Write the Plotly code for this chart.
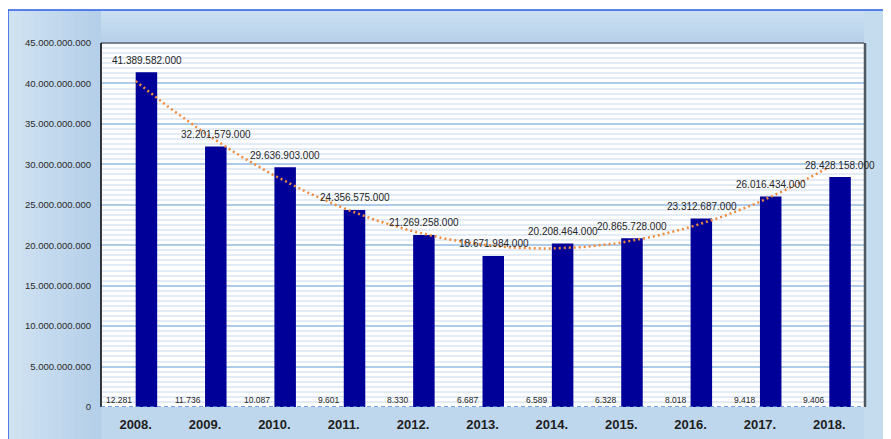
import numpy as np
import plotly.graph_objects as go

# ---- data ----
years = ["2008.", "2009.", "2010.", "2011.", "2012.", "2013.", "2014.", "2015.", "2016.", "2017.", "2018."]
small_values = [12281, 11736, 10087, 9601, 8330, 6687, 6589, 6328, 8018, 9418, 9406]
large_values = [41389582000, 32201579000, 29636903000, 24356575000, 21269258000, 18671984000,
                20208464000, 20865728000, 23312687000, 26016434000, 28428158000]
y_ticks = [0, 5e9, 10e9, 15e9, 20e9, 25e9, 30e9, 35e9, 40e9, 45e9]

def fmt(v):
    return f"{int(v):,}".replace(",", ".")

OFF = 8  # page body margin
W, H = 891 - OFF, 439 - OFF
L, R, T, B = 101 - OFF, 864 - OFF, 43 - OFF, 407 - OFF
PW, PH = R - L, B - T

def fx(p):  # p in screen pixels
    return (p - OFF - L) / PW

def fy(p):
    return (B - (p - OFF)) / PH

idx = np.arange(len(years))

fig = go.Figure()
fig.add_trace(go.Bar(x=idx, y=small_values, marker=dict(color="#000099", line=dict(width=0)),
                     showlegend=False, hoverinfo="skip"))
fig.add_trace(go.Bar(x=idx, y=large_values, marker=dict(color="#000099", line=dict(width=0)),
                     showlegend=False))

# polynomial (order 2) trendline of the large series
coef = np.polyfit(idx, np.array(large_values, dtype=float), 2)
xs = np.linspace(0, len(years) - 1, 121)
fig.add_trace(go.Scatter(x=xs, y=np.polyval(coef, xs), mode="lines",
                         line=dict(color="#f08a3c", width=2.5, dash="2px,3px"),
                         showlegend=False, hoverinfo="skip"))

annotations = []
for i, v in enumerate(large_values):
    annotations.append(dict(x=i, y=v, xref="x", yref="y", text=fmt(v), showarrow=False,
                            xshift=11, yshift=12, yanchor="middle",
                            font=dict(family="Arial, Liberation Sans", size=10, color="#262626")))
for i, v in enumerate(small_values):
    annotations.append(dict(x=i, y=v, xref="x", yref="y", text=fmt(v), showarrow=False,
                            xanchor="right", xshift=-2, yshift=7, yanchor="middle",
                            font=dict(family="Arial, Liberation Sans", size=8.5, color="#262626")))

shapes = []
def rect(x0, y0, x1, y1, color, layer="below"):
    shapes.append(dict(type="rect", xref="paper", yref="paper", x0=fx(x0), x1=fx(x1),
                       y0=fy(y1), y1=fy(y0), fillcolor=color, line=dict(width=0), layer=layer))

def mix(c1, c2, t):
    a = [int(c1[i:i + 2], 16) for i in (1, 3, 5)]
    b = [int(c2[i:i + 2], 16) for i in (1, 3, 5)]
    return "#" + "".join(f"{round(a[k] + (b[k] - a[k]) * t):02x}" for k in range(3))

SL, ST, SR, SB = 101, 43, 864, 407  # plot area, screen pixels
# base outer areas
rect(8, 10, 900, ST, "#c5dcef")
rect(8, SB, 900, 445, "#bfd7ed")
rect(SR, 10, 900, 445, "#c5dcef")
# left gradient
n = 14
for k in range(n):
    x0 = 8 + (SL - 8) * k / n
    x1 = 8 + (SL - 8) * (k + 1) / n + 0.5
    rect(x0, 10, x1, 445, mix("#d0e2f2", "#b4cfe9", k / (n - 1)))
# top gradient
m = 8
for k in range(m):
    y0 = 10 + (ST - 10) * k / m
    y1 = 10 + (ST - 10) * (k + 1) / m + 0.5
    rect(SL, y0, SR, y1, mix("#cadff1", "#b7d1ea", k / (m - 1)))

def line(x0, y0, x1, y1, color, width, dash="solid"):
    shapes.append(dict(type="line", xref="paper", yref="paper", x0=fx(x0), x1=fx(x1),
                       y0=fy(y0), y1=fy(y1), line=dict(color=color, width=width, dash=dash),
                       layer="above"))

line(8, 10, 900, 10, "#2a5be6", 1.5)
line(8, 10, 8, 445, "#2a5be6", 1.5)
line(SL, ST, SR, ST, "#5d6670", 1.5)
line(SR + 1, ST, SR + 1, SB, "#4f5760", 2.5)
line(SL, ST, SL, SB, "#000000", 1.5)
shapes.append(dict(type="line", xref="paper", yref="y", x0=0, x1=1, y0=0, y1=0,
                   line=dict(color="#4a80d8", width=1.5, dash="4px,3px"), layer="above"))

fig.update_layout(
    width=W, height=H,
    margin=dict(l=L, r=W - R, t=T, b=H - B, pad=0, autoexpand=False),
    paper_bgcolor="white", plot_bgcolor="white",
    separators=",.",
    barmode="group", bargap=0.38, bargroupgap=0,
    font=dict(family="Arial, Liberation Sans", color="#262626"),
    xaxis=dict(range=[-0.5, len(years) - 0.5], tickvals=list(idx), ticktext=years,
               showgrid=False, zeroline=False, showline=False, ticks="",
               ticklabelstandoff=8, automargin=False,
               tickfont=dict(family="Arial, Liberation Sans", size=13, color="#1e1e1e", weight="bold")),
    yaxis=dict(range=[0, 45e9], tickvals=y_ticks, ticktext=[fmt(v) for v in y_ticks],
               showgrid=True, gridcolor="#aecbea", gridwidth=2,
               minor=dict(dtick=625e6, showgrid=True, gridcolor="#e2ebf6", gridwidth=2),
               zeroline=False, showline=False, ticks="", ticklabelstandoff=9, automargin=False,
               tickfont=dict(family="Arial, Liberation Sans", size=9.5, color="#2a2a2a")),
    annotations=annotations,
    shapes=shapes,
)

fig.write_html("out.html")
